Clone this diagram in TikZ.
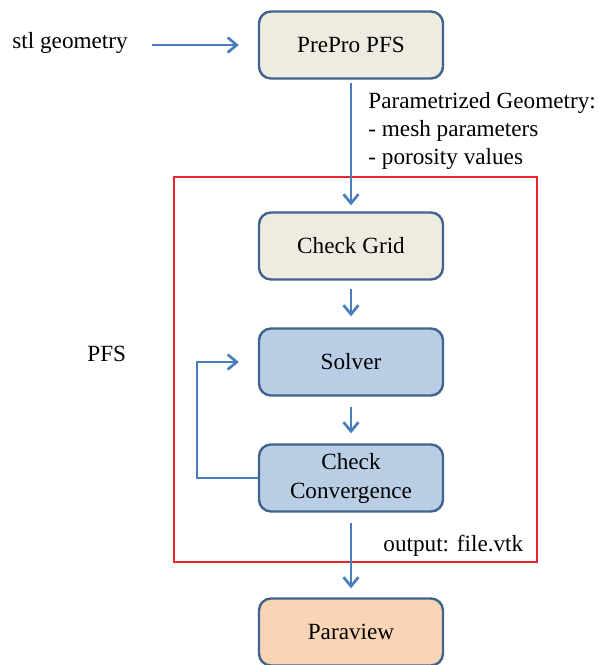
\documentclass[tikz,border=0pt]{standalone}
\usepackage{fontspec}
\setmainfont{Liberation Serif}
\newfontfamily\serfont{Liberation Serif}
\usetikzlibrary{arrows.meta}
\definecolor{boxline}{HTML}{41638D}
\definecolor{beige}{HTML}{EEEBE0}
\definecolor{lblue}{HTML}{B9CDE5}
\definecolor{peach}{HTML}{FAD5B5}
\definecolor{arrowblue}{HTML}{4A7EBB}
\definecolor{redline}{HTML}{E8232B}
\begin{document}
\begin{tikzpicture}[x=0.5pt,y=-0.5pt,
  font=\serfont\fontsize{11.6}{14}\selectfont,
  flowbox/.style={draw=boxline, line width=1.2pt, rounded corners=6pt, minimum width=92pt, minimum height=33.5pt, align=center, inner sep=0pt},
  conn/.style={draw=arrowblue, line width=1.35pt, -{Straight Barb[length=4.5pt,width=7.5pt,line width=1.35pt]}},
  plain/.style={inner sep=0pt, anchor=west}]
\useasboundingbox (0,0) rectangle (598,665);
\draw[redline, line width=1.2pt] (174,177) rectangle (537,562);
\node[flowbox, fill=beige] (pre) at (351,45) {PrePro PFS};
\node[flowbox, fill=beige] (grid) at (351,246) {Check Grid};
\node[flowbox, fill=lblue] (solver) at (351,362) {Solver};
\node[flowbox, fill=lblue] (conv) at (351,478) {Check\\[0.5pt]Convergence};
\node[flowbox, fill=peach] (para) at (351,632) {Paraview};
\node[plain] (stl) at (12,43) {stl geometry};
\node[plain] (par) at (368,103) {Parametrized Geometry:};
\node[plain] (mesh) at (368,131) {- mesh parameters};
\node[plain] (poro) at (368,159) {- porosity values};
\node[plain] (pfs) at (87,354) {PFS};
\node[plain] (out) at (383,546) {output: file.vtk};
\coordinate (stlend) at (152,45);
\coordinate (loopx) at (197,0);
\draw[conn, shorten >=9.5pt] (stlend) -- (pre.west);
\draw[conn, shorten <=1.5pt, shorten >=3pt] (pre.south) -- (grid.north);
\draw[conn, shorten <=4pt, shorten >=5.5pt] (grid.south) -- (solver.north);
\draw[conn, shorten <=5pt, shorten >=5pt] (solver.south) -- (conv.north);
\draw[conn, shorten <=5pt, shorten >=4.5pt] (conv.south) -- (para.north);
\draw[conn, shorten >=9.5pt] (conv.west) -- (conv.west -| loopx) -- (solver.west -| loopx) -- (solver.west);
\end{tikzpicture}
\end{document}
